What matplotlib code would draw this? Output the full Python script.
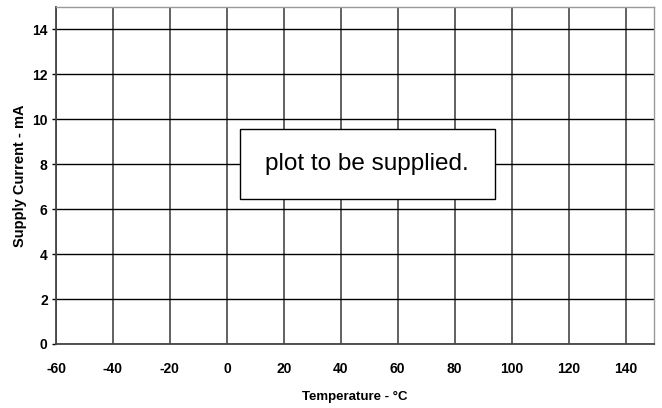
import matplotlib
matplotlib.use("Agg")
from matplotlib import pyplot as plt
from matplotlib.patches import Rectangle

plt.rcParams['font.family'] = ['Liberation Sans', 'DejaVu Sans']
plt.rcParams['axes.unicode_minus'] = False

# Axis setup.
x_ticks = [-60, -40, -20, 0, 20, 40, 60, 80, 100, 120, 140]
y_ticks = [0, 2, 4, 6, 8, 10, 12, 14]
x_limits = (-60, 150)
y_limits = (0, 15)
x_label = 'Temperature - °C'
y_label = 'Supply Current - mA'
note = 'plot to be supplied.'
note_box = (4.6, 6.43, 89.4, 3.15)  # x, y, width, height in data units

fig = plt.figure(figsize=(6.62, 4.08), dpi=100)
ax = fig.add_axes([0.0846, 0.157, 0.9034, 0.826])

ax.set_xlim(*x_limits)
ax.set_ylim(*y_limits)
ax.set_xticks(x_ticks)
ax.set_yticks(y_ticks)
ax.tick_params(axis='x', length=0, pad=13, labelsize=10)
ax.tick_params(axis='y', length=3, width=1, pad=3, labelsize=10)
for lab in ax.get_xticklabels() + ax.get_yticklabels():
    lab.set_fontweight('bold')

# vertical grid gray, horizontal black
ax.grid(axis='x', color='#555555', linewidth=1.3)
ax.grid(axis='y', color='black', linewidth=1.0)
ax.set_axisbelow(True)

for side in ['left', 'bottom']:
    ax.spines[side].set_color('#444444')
    ax.spines[side].set_linewidth(1.3)
for side in ['top', 'right']:
    ax.spines[side].set_color('#999999')
    ax.spines[side].set_linewidth(1.0)

ax.set_xlabel(x_label, fontsize=9.5, fontweight='bold', labelpad=11)
ax.set_ylabel(y_label, fontsize=10.5, fontweight='bold', labelpad=4)

bx, by, bw, bh = note_box
ax.add_patch(Rectangle((bx, by), bw, bh, facecolor='white',
                       edgecolor='black', linewidth=1.0, zorder=5))
ax.text(bx + bw / 2, by + bh / 2, note, ha='center', va='center',
        fontsize=17.5, zorder=6)

fig.savefig('out.png', dpi=100)
